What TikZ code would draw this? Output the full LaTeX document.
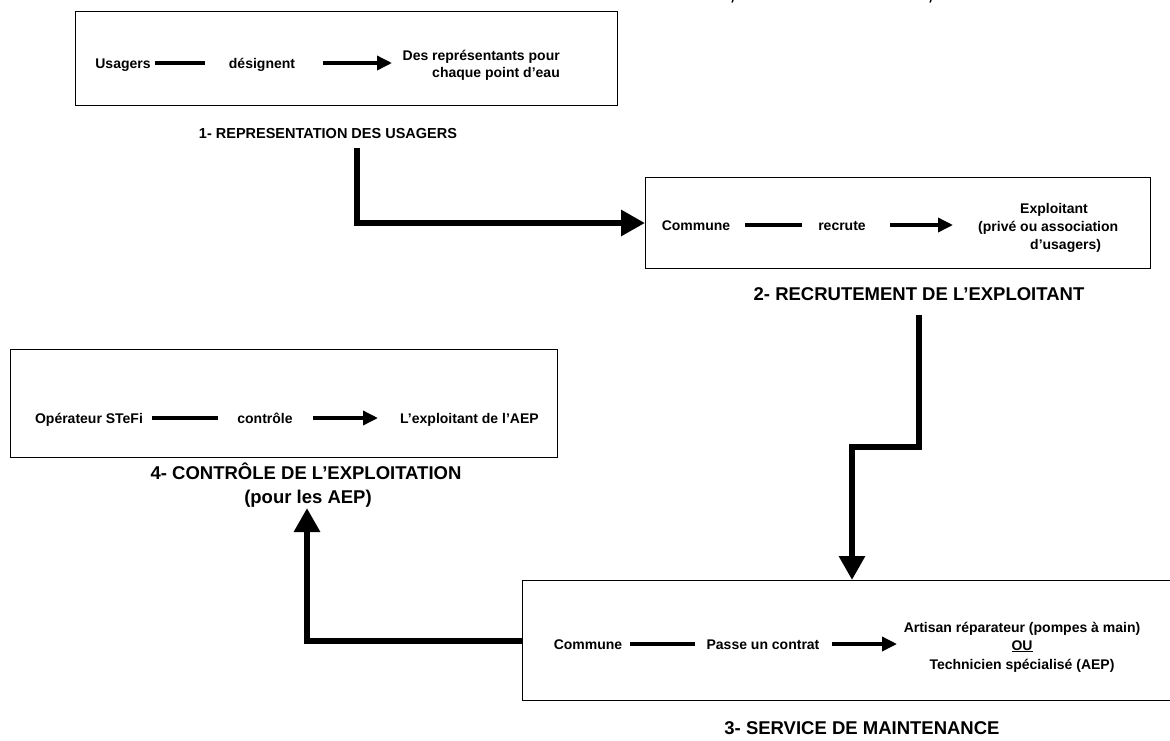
\documentclass[tikz,border=0pt]{standalone}
\usepackage{fontspec}
\setmainfont{Liberation Sans}
\usetikzlibrary{arrows.meta}
\begin{document}
\begin{tikzpicture}[x=1pt,y=-1pt,
  boxst/.style={draw, line width=1.2pt, anchor=north west, inner sep=0pt},
  txt/.style={inner sep=0pt, anchor=base, font=\fontsize{14}{17}\selectfont\bfseries},
  capst/.style={inner sep=0pt, anchor=base, font=\fontsize{14.5}{24}\selectfont\bfseries},
  bigcap/.style={inner sep=0pt, anchor=base, font=\fontsize{18.5}{24}\selectfont\bfseries},
  thinline/.style={line width=3.5pt},
  thinarrow/.style={line width=3.5pt, -{Triangle[length=15pt,width=14pt]}},
  bigarrow/.style={line width=6.6pt, -{Triangle[length=24pt,width=25pt]}}
]
\useasboundingbox (0,0) rectangle (1170,740);
\clip (0,0) rectangle (1170,740);

% boxes
\node[boxst, minimum width=542pt, minimum height=94pt] (b1) at (75,11) {};
\node[boxst, minimum width=505pt, minimum height=91pt] (b2) at (645,177) {};
\node[boxst, minimum width=660pt, minimum height=120pt] (b3) at (522,580) {};
\node[boxst, minimum width=547pt, minimum height=108pt] (b4) at (10,349) {};

% box 1
\node[txt] (u1) at (123,68) {Usagers};
\node[txt] (d1) at (262,68) {désignent};
\node[txt, anchor=base east] (r1a) at (560,60) {Des représentants pour};
\node[txt, anchor=base east] (r1b) at (560,77) {chaque point d’eau};
\coordinate (l1a) at (155,63); \coordinate (l1b) at (205,63);
\coordinate (a1a) at (323,63); \coordinate (a1b) at (392,63);
\draw[thinline] (l1a) -- (l1b);
\draw[thinarrow] (a1a) -- (a1b);
\node[capst] (c1) at (328,138) {1- REPRESENTATION DES USAGERS};

% box 2
\node[txt] (u2) at (696,230) {Commune};
\node[txt] (d2) at (842,230) {recrute};
\node[txt, anchor=base west] (r2a) at (1020,213) {Exploitant};
\node[txt, anchor=base west] (r2b) at (978,231) {(privé ou association};
\node[txt, anchor=base west] (r2c) at (1030,249) {d’usagers)};
\coordinate (l2a) at (745,225); \coordinate (l2b) at (802,225);
\coordinate (a2a) at (890,225); \coordinate (a2b) at (953,225);
\draw[thinline] (l2a) -- (l2b);
\draw[thinarrow] (a2a) -- (a2b);
\node[bigcap] (c2) at (919,300) {2- RECRUTEMENT DE L’EXPLOITANT};

% box 3
\node[txt] (u3) at (588,649) {Commune};
\node[txt] (d3) at (763,649) {Passe un contrat};
\node[txt] (r3a) at (1022,632) {Artisan réparateur (pompes à main)};
\node[txt] (r3b) at (1022,650) {\underline{OU}};
\node[txt] (r3c) at (1022,669) {Technicien spécialisé (AEP)};
\coordinate (l3a) at (630,644); \coordinate (l3b) at (695,644);
\coordinate (a3a) at (832,644); \coordinate (a3b) at (897,644);
\draw[thinline] (l3a) -- (l3b);
\draw[thinarrow] (a3a) -- (a3b);
\node[bigcap] (c3) at (862,734) {3- SERVICE DE MAINTENANCE};

% box 4
\node[txt] (u4) at (89,423) {Opérateur STeFi};
\node[txt] (d4) at (265,423) {contrôle};
\node[txt, anchor=base west] (r4) at (400,423) {L’exploitant de l’AEP};
\coordinate (l4a) at (152,418); \coordinate (l4b) at (218,418);
\coordinate (a4a) at (313,418); \coordinate (a4b) at (378,418);
\draw[thinline] (l4a) -- (l4b);
\draw[thinarrow] (a4a) -- (a4b);
\node[bigcap] (c4a) at (306,479) {4- CONTRÔLE DE L’EXPLOITATION};
\node[bigcap] (c4b) at (308,503) {(pour les AEP)};

% big connectors
\coordinate (s12) at (357,148);
\draw[bigarrow] (s12) |- (b2.west |- 0,223);
\coordinate (s23) at (919,315);
\coordinate (t23) at (852,580);
\draw[bigarrow] (s23) -- (919,447) -| (t23);
\coordinate (t34) at (307,508);
\draw[bigarrow] (b3.west |- 0,641) -| (t34);

% cut-off marks at top
\draw[line width=1.3pt] (733,0) -- (732,2.5);
\draw[line width=1.3pt] (931,0) -- (930,2.5);
\end{tikzpicture}
\end{document}
